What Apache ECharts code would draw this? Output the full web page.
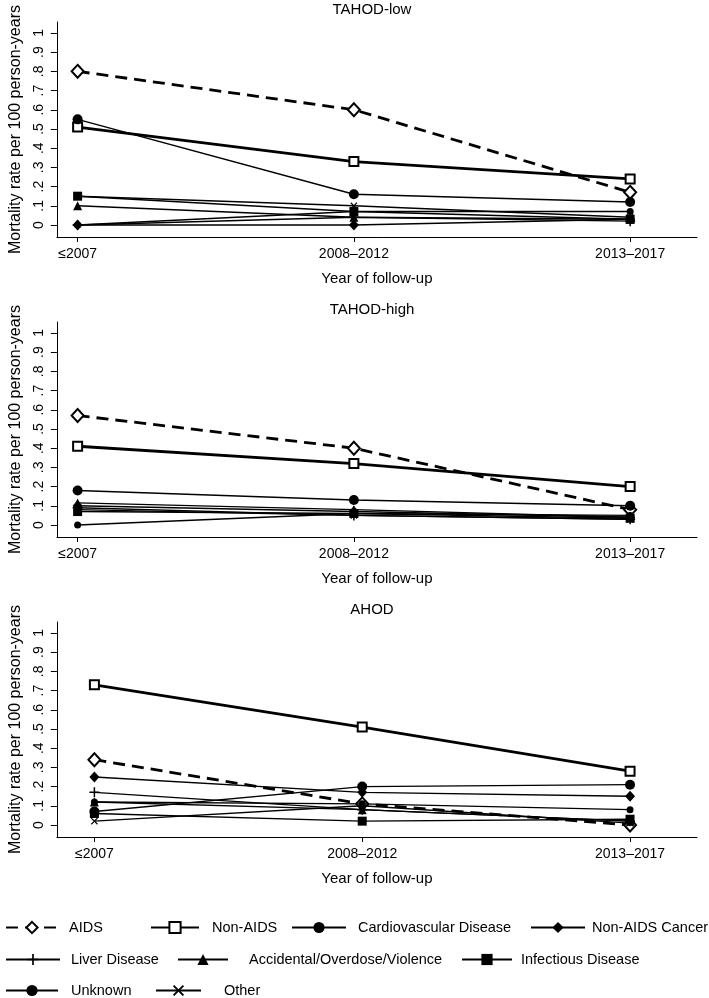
<!DOCTYPE html>
<html><head><meta charset="utf-8">
<script src="https://cdn.jsdelivr.net/npm/echarts@6/dist/echarts.min.js"></script>
<style>html,body{margin:0;padding:0;background:#fff}#c{width:709px;height:998px}</style>
</head><body><div id="c"></div>
<script>
var categories = ['\u22642007', '2008\u20132012', '2013\u20132017'];
var panelTitles = ['TAHOD-low', 'TAHOD-high', 'AHOD'];
var seriesNames = ['AIDS', 'Non-AIDS', 'Cardiovascular Disease', 'Non-AIDS Cancer', 'Liver Disease', 'Accidental/Overdose/Violence', 'Infectious Disease', 'Unknown', 'Other'];
var yTicks = [0, 0.1, 0.2, 0.3, 0.4, 0.5, 0.6, 0.7, 0.8, 0.9, 1];

// TAHOD-low
var lowAIDS = [0.80, 0.60, 0.17];
var lowNonAIDS = [0.51, 0.33, 0.24];
var lowCardio = [0.00, 0.07, 0.07];
var lowCancer = [0.00, 0.00, 0.03];
var lowLiver = [0.00, 0.04, 0.02];
var lowAccident = [0.10, 0.04, 0.03];
var lowInfect = [0.15, 0.07, 0.03];
var lowUnknown = [0.55, 0.16, 0.12];
var lowOther = [0.15, 0.10, 0.04];

// TAHOD-high
var highAIDS = [0.57, 0.40, 0.08];
var highNonAIDS = [0.41, 0.32, 0.20];
var highCardio = [0.00, 0.06, 0.05];
var highCancer = [0.10, 0.07, 0.04];
var highLiver = [0.09, 0.05, 0.03];
var highAccident = [0.115, 0.08, 0.04];
var highInfect = [0.07, 0.06, 0.035];
var highUnknown = [0.18, 0.13, 0.10];
var highOther = [0.08, 0.05, 0.03];

// AHOD
var ahodAIDS = [0.34, 0.11, 0.00];
var ahodNonAIDS = [0.73, 0.51, 0.28];
var ahodCardio = [0.12, 0.11, 0.08];
var ahodCancer = [0.25, 0.17, 0.15];
var ahodLiver = [0.17, 0.08, 0.02];
var ahodAccident = [0.12, 0.08, 0.02];
var ahodInfect = [0.06, 0.02, 0.03];
var ahodUnknown = [0.07, 0.20, 0.21];
var ahodOther = [0.02, 0.10, 0.01];

var panels = [
  [lowAIDS, lowNonAIDS, lowCardio, lowCancer, lowLiver, lowAccident, lowInfect, lowUnknown, lowOther],
  [highAIDS, highNonAIDS, highCardio, highCancer, highLiver, highAccident, highInfect, highUnknown, highOther],
  [ahodAIDS, ahodNonAIDS, ahodCardio, ahodCancer, ahodLiver, ahodAccident, ahodInfect, ahodUnknown, ahodOther]
];

var FONT = "'Liberation Sans',Arial,sans-serif";
var PLUS = 'path://M4.25,0H5.75V4.25H10V5.75H5.75V10H4.25V5.75H0V4.25H4.25Z';
var XMARK = 'path://M1.2,0L5,3.8L8.8,0L10,1.2L6.2,5L10,8.8L8.8,10L5,6.2L1.2,10L0,8.8L3.8,5L0,1.2Z';

var styles = [
  {symbol: 'diamond', size: [12, 13], width: 2.8, type: [12, 7], hollow: true},
  {symbol: 'rect', size: 9, width: 2.8, type: 'solid', hollow: true},
  {symbol: 'circle', size: 7, width: 1.4, type: 'solid'},
  {symbol: 'diamond', size: [10, 11], width: 1.4, type: 'solid'},
  {symbol: PLUS, size: 10, width: 1.4, type: 'solid'},
  {symbol: 'triangle', size: 9, width: 1.4, type: 'solid'},
  {symbol: 'rect', size: 9, width: 1.4, type: 'solid'},
  {symbol: 'circle', size: 10, width: 1.4, type: 'solid'},
  {symbol: XMARK, size: 7, width: 1.4, type: 'solid'}
];

var grids = [
  {left: 47, top: 22, width: 650, height: 215},
  {left: 47, top: 322, width: 650, height: 215},
  {left: 47, top: 622, width: 650, height: 215}
];
var xRanges = [[-0.075, 2.242], [-0.075, 2.242], [-0.14, 2.25]];

var option = {
  animation: false,
  backgroundColor: '#fff',
  title: [], grid: grids, xAxis: [], yAxis: [], series: [], legend: []
};

for (var p = 0; p < 3; p++) {
  option.title.push({
    text: panelTitles[p], left: 372, top: grids[p].top - 20, textAlign: 'center', padding: 0,
    textStyle: {fontFamily: FONT, fontSize: 15, fontWeight: 'normal', color: '#000'}
  });
  option.xAxis.push({
    type: 'value', gridIndex: p, min: xRanges[p][0], max: xRanges[p][1],
    name: 'Year of follow-up', nameLocation: 'middle', nameGap: 34,
    nameTextStyle: {fontFamily: FONT, fontSize: 15, color: '#000'},
    axisLine: {show: true, onZero: false, lineStyle: {color: '#000', width: 1}},
    axisTick: {show: true, length: 5, customValues: [0, 1, 2], lineStyle: {color: '#000'}},
    axisLabel: {show: true, customValues: [0, 1, 2], margin: 10, fontFamily: FONT, fontSize: 14, color: '#000',
      formatter: function (v) { return categories[Math.round(v)]; }},
    splitLine: {show: false}
  });
  option.yAxis.push({
    type: 'value', gridIndex: p, min: -0.0625, max: 1.057,
    name: 'Mortality rate per 100 person-years', nameLocation: 'middle', nameGap: 32, nameRotate: 90,
    nameTextStyle: {fontFamily: FONT, fontSize: 16, color: '#000'},
    axisLine: {show: true, onZero: false, lineStyle: {color: '#000', width: 1}},
    axisTick: {show: true, length: 6, customValues: yTicks, lineStyle: {color: '#000'}},
    axisLabel: {show: true, customValues: yTicks, rotate: 90, margin: 11, fontFamily: FONT, fontSize: 14, color: '#000',
      formatter: function (v) {
        var r = Math.round(v * 10);
        if (r === 0) return '0';
        if (r === 10) return '1';
        return '.' + r;
      }},
    splitLine: {show: false}
  });
  for (var s = 0; s < seriesNames.length; s++) {
    var st = styles[s];
    var vals = panels[p][s];
    var data = vals.map(function (v, i) { return [i, v]; });
    option.series.push({
      type: 'line', name: seriesNames[s], xAxisIndex: p, yAxisIndex: p, data: data,
      symbol: st.symbol, symbolSize: st.size, showAllSymbol: true,
      lineStyle: {color: '#000', width: st.width, type: st.type},
      itemStyle: st.hollow ? {color: '#fff', borderColor: '#000', borderWidth: 2} : {color: '#000', borderWidth: 0},
      emphasis: {disabled: true}, z: 2 + s
    });
  }
}

var legendLayout = [
  {left: 5, top: 920, w: 52, pad: 6},
  {left: 150, top: 920, w: 48, pad: 8},
  {left: 291, top: 920, w: 54, pad: 7},
  {left: 530, top: 920, w: 54, pad: 2},
  {left: 5, top: 952, w: 54, pad: 6},
  {left: 177, top: 952, w: 50, pad: 16},
  {left: 461, top: 952, w: 50, pad: 4},
  {left: 5, top: 983, w: 52, pad: 8},
  {left: 155, top: 983, w: 45, pad: 18}
];
for (var k = 0; k < seriesNames.length; k++) {
  var L = legendLayout[k];
  option.legend.push({
    data: [seriesNames[k]], left: L.left, top: L.top, padding: 0,
    itemWidth: L.w, itemHeight: 14, selectedMode: false,
    textStyle: {fontFamily: FONT, fontSize: 14.5, color: '#000', padding: [0, 0, 0, L.pad]}
  });
}

var chart = echarts.init(document.getElementById('c'), null, {renderer: 'canvas'});
chart.setOption(option);
</script>
</body></html>
